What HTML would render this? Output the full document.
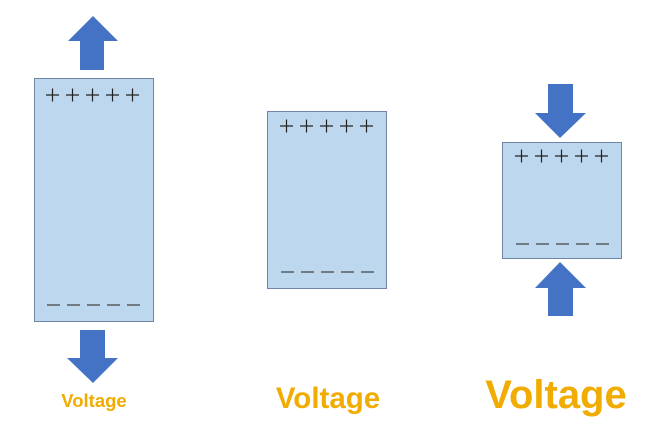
<!DOCTYPE html>
<html><head><meta charset="utf-8"><style>
html,body{margin:0;padding:0;background:#fff;width:650px;height:438px;overflow:hidden}
</style></head><body>
<svg width="650" height="438" viewBox="0 0 650 438" xmlns="http://www.w3.org/2000/svg">
<g fill="#4472c4">
<polygon points="80,70 104,70 104,41 118,41 93,16 68,41 80,41"/>
<polygon points="80,330 105,330 105,358 118,358 93,383 67,358 80,358"/>
<polygon points="548,84 573,84 573,113 586,113 560,138 535,113 548,113"/>
<polygon points="548,316 573,316 573,288 586,288 560,262 535,288 548,288"/>
</g>
<g fill="#bdd7ee" stroke="#6e85a6" stroke-width="1">
<rect x="34.5" y="78.5" width="119" height="243"/>
<rect x="267.5" y="111.5" width="119" height="177"/>
<rect x="502.5" y="142.5" width="119" height="116"/>
</g>
<g stroke="#222" stroke-width="1.2">
<path d="M46 95h13M52.5 88.5v13M66 95h13M72.5 88.5v13M86 95h13M92.5 88.5v13M106 95h13M112.5 88.5v13M126 95h13M132.5 88.5v13"/>
<path d="M280 126h13M286.5 119.5v13M300 126h13M306.5 119.5v13M320 126h13M326.5 119.5v13M340 126h13M346.5 119.5v13M360 126h13M366.5 119.5v13"/>
<path d="M515 156h13M521.5 149.5v13M535 156h13M541.5 149.5v13M555 156h13M561.5 149.5v13M575 156h13M581.5 149.5v13M595 156h13M601.5 149.5v13"/>
</g>
<g stroke="#444" stroke-width="1.2">
<path d="M47 305h13M67 305h13M87 305h13M107 305h13M127 305h13"/>
<path d="M281 272h13M301 272h13M321 272h13M341 272h13M361 272h13"/>
<path d="M516 244h13M536 244h13M556 244h13M576 244h13M596 244h13"/>
</g>
<g font-family="Liberation Sans, sans-serif" font-weight="bold" fill="#f0ac00" text-anchor="middle">
<text x="94" y="407" font-size="18.5">Voltage</text>
<text x="328" y="408" font-size="29.5">Voltage</text>
<text x="556" y="408" font-size="40">Voltage</text>
</g>
</svg>
</body></html>
